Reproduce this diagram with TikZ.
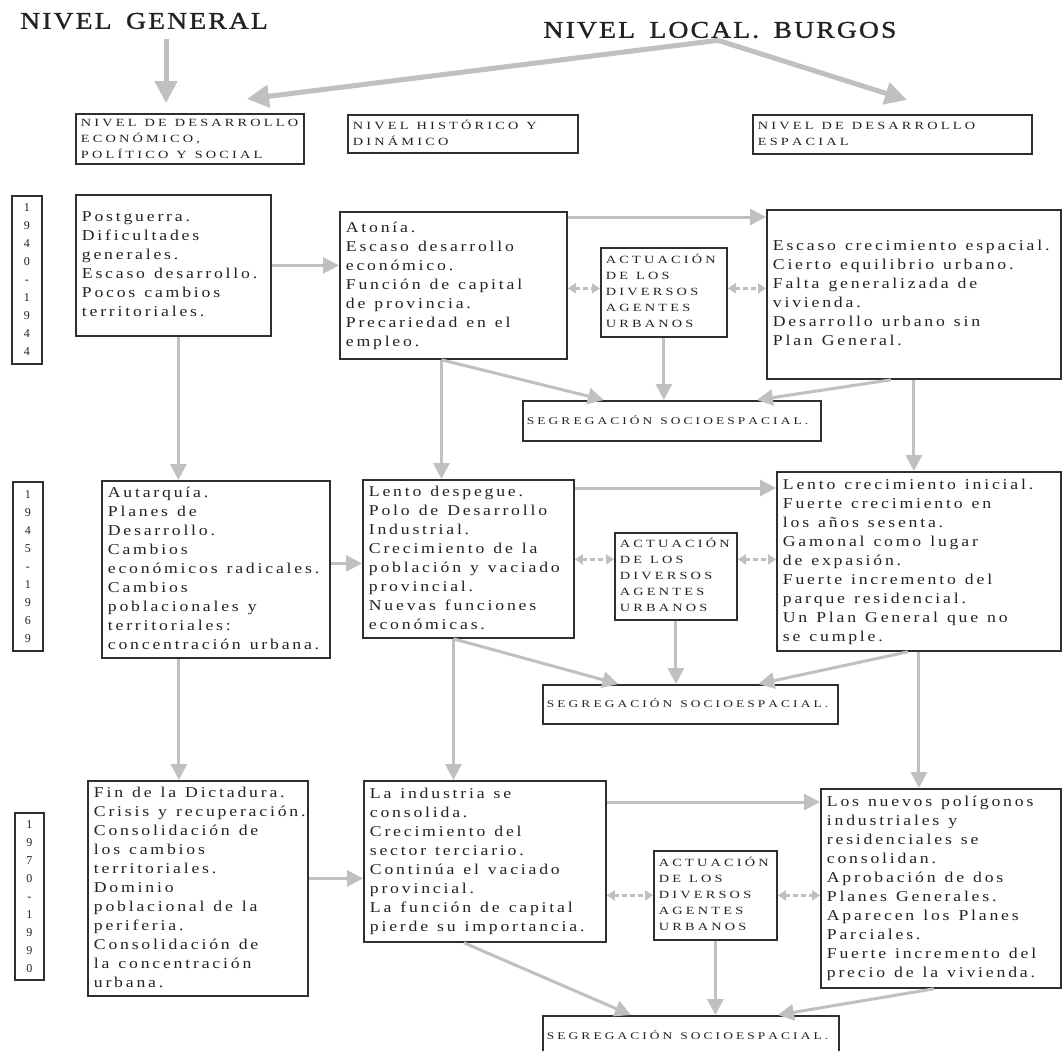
\documentclass[tikz,border=0pt]{standalone}
\usepackage{fontspec}
\usepackage{array}
\setmainfont{Liberation Serif}
\newfontfamily\bodyf[FakeStretch=1.18]{Liberation Serif}
\newfontfamily\capf[FakeStretch=1.3]{Liberation Serif}
\newfontfamily\titf[LetterSpace=9,FakeStretch=1.15,FakeBold=1.2,WordSpace=1.6]{Liberation Serif}
\newlength{\wsp}
\newcommand{\bodyfont}{\bodyf\fontsize{15}{19}\selectfont\setlength{\wsp}{9pt plus 1pt}\XeTeXinterchartokenstate=1 \XeTeXinterchartoks 0 0 = {\kern2.8pt}}
\newcommand{\capfont}{\capf\fontsize{11}{16}\selectfont\setlength{\wsp}{8pt plus 1pt}\XeTeXinterchartokenstate=1 \XeTeXinterchartoks 0 0 = {\kern3.2pt}}
\newcommand{\segfont}{\capf\fontsize{10.3}{16}\selectfont\setlength{\wsp}{8pt plus 1pt}\XeTeXinterchartokenstate=1 \XeTeXinterchartoks 0 0 = {\kern3.1pt}}
\newcommand{\titfont}{\XeTeXinterchartokenstate=0 \titf\fontsize{24}{28}\selectfont}
\newcommand{\yfont}{\XeTeXinterchartokenstate=0 \fontsize{12}{18}\selectfont}
\usetikzlibrary{arrows.meta}
\definecolor{boxc}{HTML}{2E2E2E}
\definecolor{arrc}{HTML}{C0C0C0}
\definecolor{txtc}{HTML}{222222}
\newcommand{\lns}[1]{\begin{tabular}{@{}>{\spaceskip=\wsp\relax}l@{}}#1\end{tabular}}
\begin{document}
\begin{tikzpicture}[x=1pt,y=-1pt,
  box/.style={draw=boxc, line width=1.8pt, anchor=north west, inner xsep=6pt, inner ysep=3pt, text=txtc, align=left, font=\bodyfont},
  capbox/.style={box, font=\capfont, inner xsep=5pt, inner ysep=1pt},
  segbox/.style={box, font=\segfont, inner xsep=4pt, inner ysep=1pt},
  ybox/.style={draw=boxc, line width=1.8pt, anchor=north west, align=center, inner sep=0pt, text=txtc, font=\yfont},
  title/.style={font=\titfont, text=txtc, inner sep=2pt},
  arr/.style={draw=arrc, line width=3pt, -{Triangle[width=16pt,length=16pt]}},
  bigarr/.style={draw=arrc, line width=5pt, -{Triangle[width=22pt,length=22pt]}},
  darr/.style={draw=arrc, line width=3pt, dash pattern=on 5pt off 3pt, {Triangle[width=10pt,length=8pt]}-{Triangle[width=10pt,length=8pt]}},
]
\fill[white] (0,0) rectangle (1062,1050);
\useasboundingbox (0,0) rectangle (1062,1050);

% titles
\node[title] (t1) at (144,21) {NIVEL GENERAL};
\node[title] (t2) at (720,30) {NIVEL LOCAL. BURGOS};

% year boxes
\node[ybox, minimum width=30pt, minimum height=168pt] (y1) at (11,195) {1\\9\\4\\0\\-\\1\\9\\4\\4};
\node[ybox, minimum width=30pt, minimum height=169pt] (y2) at (12,481) {1\\9\\4\\5\\-\\1\\9\\6\\9};
\node[ybox, minimum width=29pt, minimum height=167pt] (y3) at (14,812) {1\\9\\7\\0\\-\\1\\9\\9\\0};

% header boxes
\node[capbox, minimum width=228pt, minimum height=48pt, text width=218pt] (ha) at (75,113) {\lns{NIVEL DE DESARROLLO\\ ECONÓMICO,\\ POLÍTICO Y SOCIAL}};
\node[capbox, minimum width=230pt, minimum height=38pt, text width=220pt] (hb) at (347,114) {\lns{NIVEL HISTÓRICO Y\\ DINÁMICO}};
\node[capbox, minimum width=279pt, minimum height=39pt, text width=269pt] (hc) at (752,114) {\lns{NIVEL DE DESARROLLO\\ ESPACIAL}};

\coordinate (tl) at (247,99);
\coordinate (tr) at (907,100);

% row 1
\node[box, minimum width=195pt, minimum height=141pt, text width=183pt] (g1) at (75,194) {\lns{Postguerra.\\ Dificultades\\ generales.\\ Escaso desarrollo.\\ Pocos cambios\\ territoriales.}};
\node[box, minimum width=227pt, minimum height=147pt, text width=215pt] (h1) at (339,211) {\lns{Atonía.\\ Escaso desarrollo\\ económico.\\ Función de capital\\ de provincia.\\ Precariedad en el\\ empleo.}};
\node[capbox, minimum width=126pt, minimum height=89pt, text width=116pt] (a1) at (600,247) {\lns{ACTUACIÓN\\ DE LOS\\ DIVERSOS\\ AGENTES\\ URBANOS}};
\node[box, minimum width=294pt, minimum height=169pt, text width=282pt] (s1) at (766,209) {\lns{Escaso crecimiento espacial.\\ Cierto equilibrio urbano.\\ Falta generalizada de\\ vivienda.\\ Desarrollo urbano sin\\ Plan General.}};
\node[segbox, minimum width=298pt, minimum height=40pt, text width=290pt] (seg1) at (522,400) {\lns{SEGREGACIÓN SOCIOESPACIAL.}};

% row 2
\node[box, minimum width=228pt, minimum height=177pt, text width=216pt] (g2) at (101,480) {\lns{Autarquía.\\ Planes de\\ Desarrollo.\\ Cambios\\ económicos radicales.\\ Cambios\\ poblacionales y\\ territoriales:\\ concentración urbana.}};
\node[box, minimum width=211pt, minimum height=158pt, text width=199pt] (h2) at (362,479) {\lns{Lento despegue.\\ Polo de Desarrollo\\ Industrial.\\ Crecimiento de la\\ población y vaciado\\ provincial.\\ Nuevas funciones\\ económicas.}};
\node[capbox, minimum width=122pt, minimum height=87pt, text width=112pt] (a2) at (614,532) {\lns{ACTUACIÓN\\ DE LOS\\ DIVERSOS\\ AGENTES\\ URBANOS}};
\node[box, minimum width=284pt, minimum height=179pt, text width=272pt] (s2) at (776,471) {\lns{Lento crecimiento inicial.\\ Fuerte crecimiento en\\ los años sesenta.\\ Gamonal como lugar\\ de expasión.\\ Fuerte incremento del\\ parque residencial.\\ Un Plan General que no\\ se cumple.}};
\node[segbox, minimum width=295pt, minimum height=39pt, text width=287pt] (seg2) at (542,684) {\lns{SEGREGACIÓN SOCIOESPACIAL.}};

% row 3
\node[box, minimum width=220pt, minimum height=215pt, text width=208pt] (g3) at (87,780) {\lns{Fin de la Dictadura.\\ Crisis y recuperación.\\ Consolidación de\\ los cambios\\ territoriales.\\ Dominio\\ poblacional de la\\ periferia.\\ Consolidación de\\ la concentración\\ urbana.}};
\node[box, minimum width=242pt, minimum height=161pt, text width=230pt] (h3) at (363,780) {\lns{La industria se\\ consolida.\\ Crecimiento del\\ sector terciario.\\ Continúa el vaciado\\ provincial.\\ La función de capital\\ pierde su importancia.}};
\node[capbox, minimum width=123pt, minimum height=89pt, text width=113pt] (a3) at (653,850) {\lns{ACTUACIÓN\\ DE LOS\\ DIVERSOS\\ AGENTES\\ URBANOS}};
\node[box, minimum width=240pt, minimum height=199pt, text width=228pt] (s3) at (820,788) {\lns{Los nuevos polígonos\\ industriales y\\ residenciales se\\ consolidan.\\ Aprobación de dos\\ Planes Generales.\\ Aparecen los Planes\\ Parciales.\\ Fuerte incremento del\\ precio de la vivienda.}};
\node[segbox, minimum width=296pt, minimum height=40pt, text width=288pt] (seg3) at (542,1015) {\lns{SEGREGACIÓN SOCIOESPACIAL.}};

% top arrows
\draw[bigarr] ([xshift=22pt,yshift=-8pt]t1.south) -- ([xshift=22pt,yshift=10pt]t1.south |- ha.north);
\draw[bigarr] ([xshift=-2pt]t2.south) -- (tl);
\draw[bigarr] ([xshift=-2pt]t2.south) -- (tr);

% row 1 arrows
\draw[arr] (g1.east) -- (g1.east -| h1.west);
\draw[arr] ([yshift=-6pt]h1.north east) -- ([yshift=-6pt]h1.north east -| s1.west);
\draw[darr] ([yshift=4pt]a1.west -| h1.east) -- ([yshift=4pt]a1.west);
\draw[darr] ([yshift=4pt]a1.east) -- ([yshift=4pt]a1.east -| s1.west);
\draw[arr] ([xshift=-12pt]h1.south) -- ([xshift=-68pt]seg1.north);
\draw[arr] (a1.south) -- (a1.south |- seg1.north);
\draw[arr] ([xshift=-23pt]s1.south) -- ([xshift=85pt]seg1.north);
\draw[arr] (s1.south) -- (s1.south |- s2.north);
\draw[arr] ([xshift=5pt]g1.south) -- ([xshift=5pt]g1.south |- g2.north);
\draw[arr] ([xshift=-12pt]h1.south) -- ([xshift=-12pt]h1.south |- h2.north);

% row 2 arrows
\draw[arr] ([yshift=6pt]g2.east) -- ([yshift=6pt]g2.east -| h2.west);
\draw[arr] ([yshift=-9pt]h2.north east) -- ([yshift=-9pt]h2.north east -| s2.west);
\draw[darr] ([yshift=17pt]a2.west -| h2.east) -- ([yshift=17pt]a2.west);
\draw[darr] ([yshift=17pt]a2.east) -- ([yshift=17pt]a2.east -| s2.west);
\draw[arr] ([xshift=-15pt]h2.south) -- ([xshift=-72pt]seg2.north);
\draw[arr] (a2.south) -- (a2.south |- seg2.north);
\draw[arr] ([xshift=-11pt]s2.south) -- ([xshift=68pt]seg2.north);
\draw[arr] (s2.south) -- (s2.south |- s3.north);
\draw[arr] ([xshift=-37pt]g2.south) -- ([xshift=-37pt]g2.south |- g3.north);
\draw[arr] ([xshift=-15pt]h2.south) -- ([xshift=-15pt]h2.south |- h3.north);

% row 3 arrows
\draw[arr] ([yshift=10pt]g3.east) -- ([yshift=10pt]g3.east -| h3.west);
\draw[arr] ([yshift=-22pt]h3.north east) -- ([yshift=-22pt]h3.north east -| s3.west);
\draw[darr] (a3.west -| h3.east) -- (a3.west);
\draw[darr] (a3.east) -- (a3.east -| s3.west);
\draw[arr] ([xshift=-21pt]h3.south) -- ([xshift=-60pt]seg3.north);
\draw[arr] (a3.south) -- (a3.south |- seg3.north);
\draw[arr] ([xshift=-7pt]s3.south) -- ([xshift=87pt]seg3.north);
\end{tikzpicture}
\end{document}
